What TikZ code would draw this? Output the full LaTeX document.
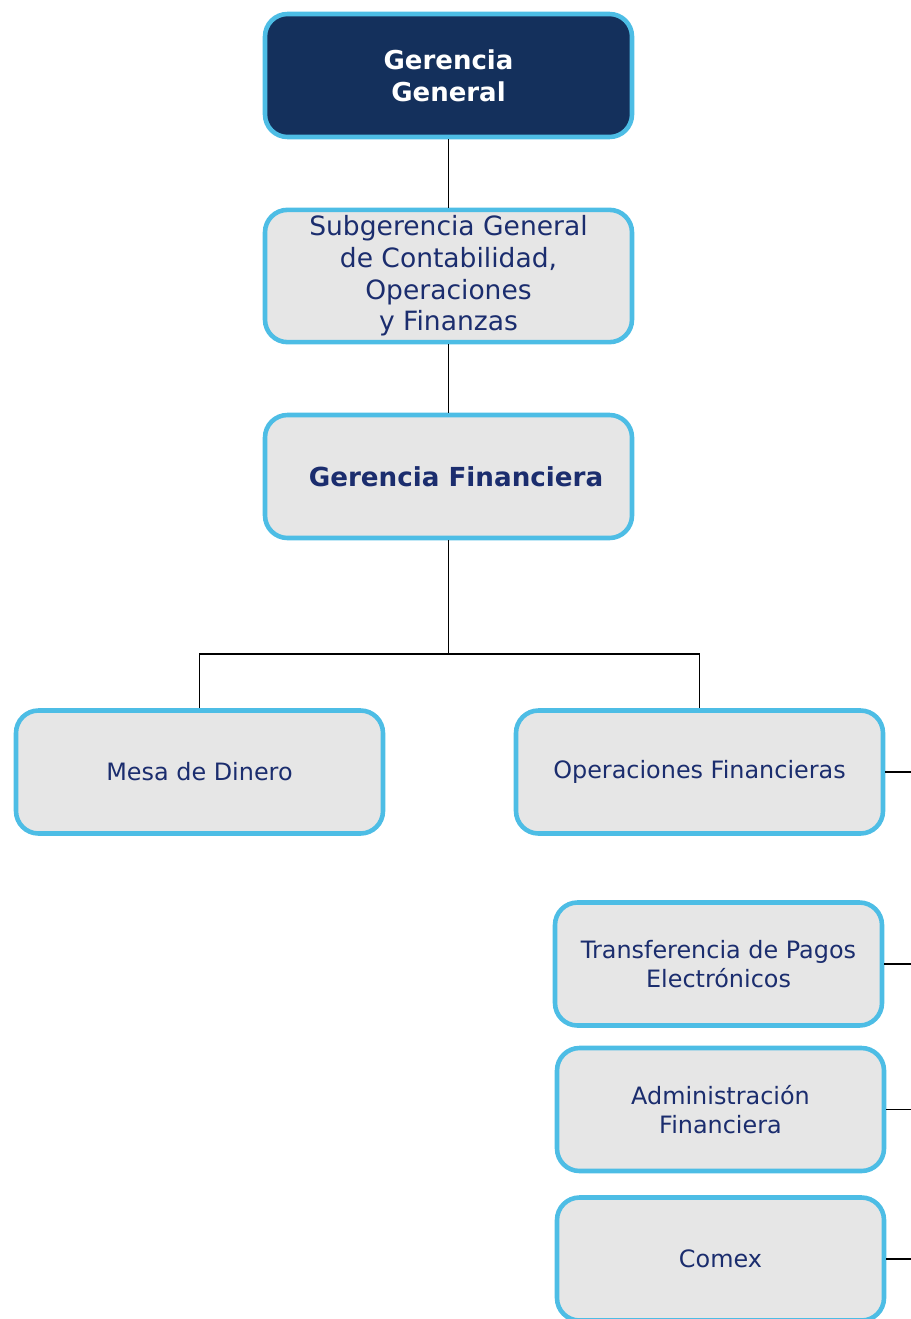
\documentclass[tikz,border=0pt]{standalone}
\usepackage{fontspec}
\setmainfont{DejaVu Sans}
\usetikzlibrary{calc}
\definecolor{navy}{HTML}{14305C}
\definecolor{skyline}{HTML}{4DBDE5}
\definecolor{boxgray}{HTML}{E6E6E6}
\definecolor{inkblue}{HTML}{1B2D6E}

\begin{document}
\begin{tikzpicture}
    [unit/.style={rectangle, rounded corners=0.45cm, draw=skyline, line width=2.6pt, fill=boxgray,
      text=inkblue, align=center, minimum width=7.34cm, minimum height=2.46cm, font=\fontsize{13.6}{16.5}\selectfont},
    head/.style={unit, fill=navy, text=white, font=\bfseries\fontsize{14.8}{18}\selectfont},
    link/.style={draw=black, line width=0.9pt}]
\useasboundingbox (0,0) rectangle (18.22,-26.38);
\node[head] (gg) at (8.97,-1.51) {Gerencia\\General};
\node[unit,font=\fontsize{15.1}{18}\selectfont] (sub) at (8.97,-5.52) {Subgerencia General\\de Contabilidad,\\Operaciones\\y Finanzas};
\node[unit,font=\bfseries\fontsize{14.9}{18}\selectfont] (gf) at (8.97,-9.53) {\hspace{0.3cm}Gerencia Financiera};
\node[unit] (mesa) at (3.99,-15.44) {Mesa de Dinero};
\node[unit] (ops) at (13.99,-15.44) {Operaciones Financieras};
\node[unit,minimum width=6.54cm] (tpe) at (14.37,-19.28) {Transferencia de Pagos\\Electrónicos};
\node[unit,minimum width=6.54cm] (adm) at (14.41,-22.19) {Administración\\Financiera};
\node[unit,minimum width=6.54cm] (comex) at (14.41,-25.18) {Comex};
\coordinate (fork) at (8.97,-13.08);
\coordinate (edge) at (18.22,0);
\draw[link] (gg) -- (sub);
\draw[link] (sub) -- (gf);
\draw[link] (gf) -- (fork);
\draw[link] (mesa.north) |- (fork) -| (ops.north);
\draw[link] (ops.east) -- (ops.east -| edge);
\draw[link] (tpe.east) -- (tpe.east -| edge);
\draw[link] (adm.east) -- (adm.east -| edge);
\draw[link] (comex.east) -- (comex.east -| edge);
\end{tikzpicture}
\end{document}
